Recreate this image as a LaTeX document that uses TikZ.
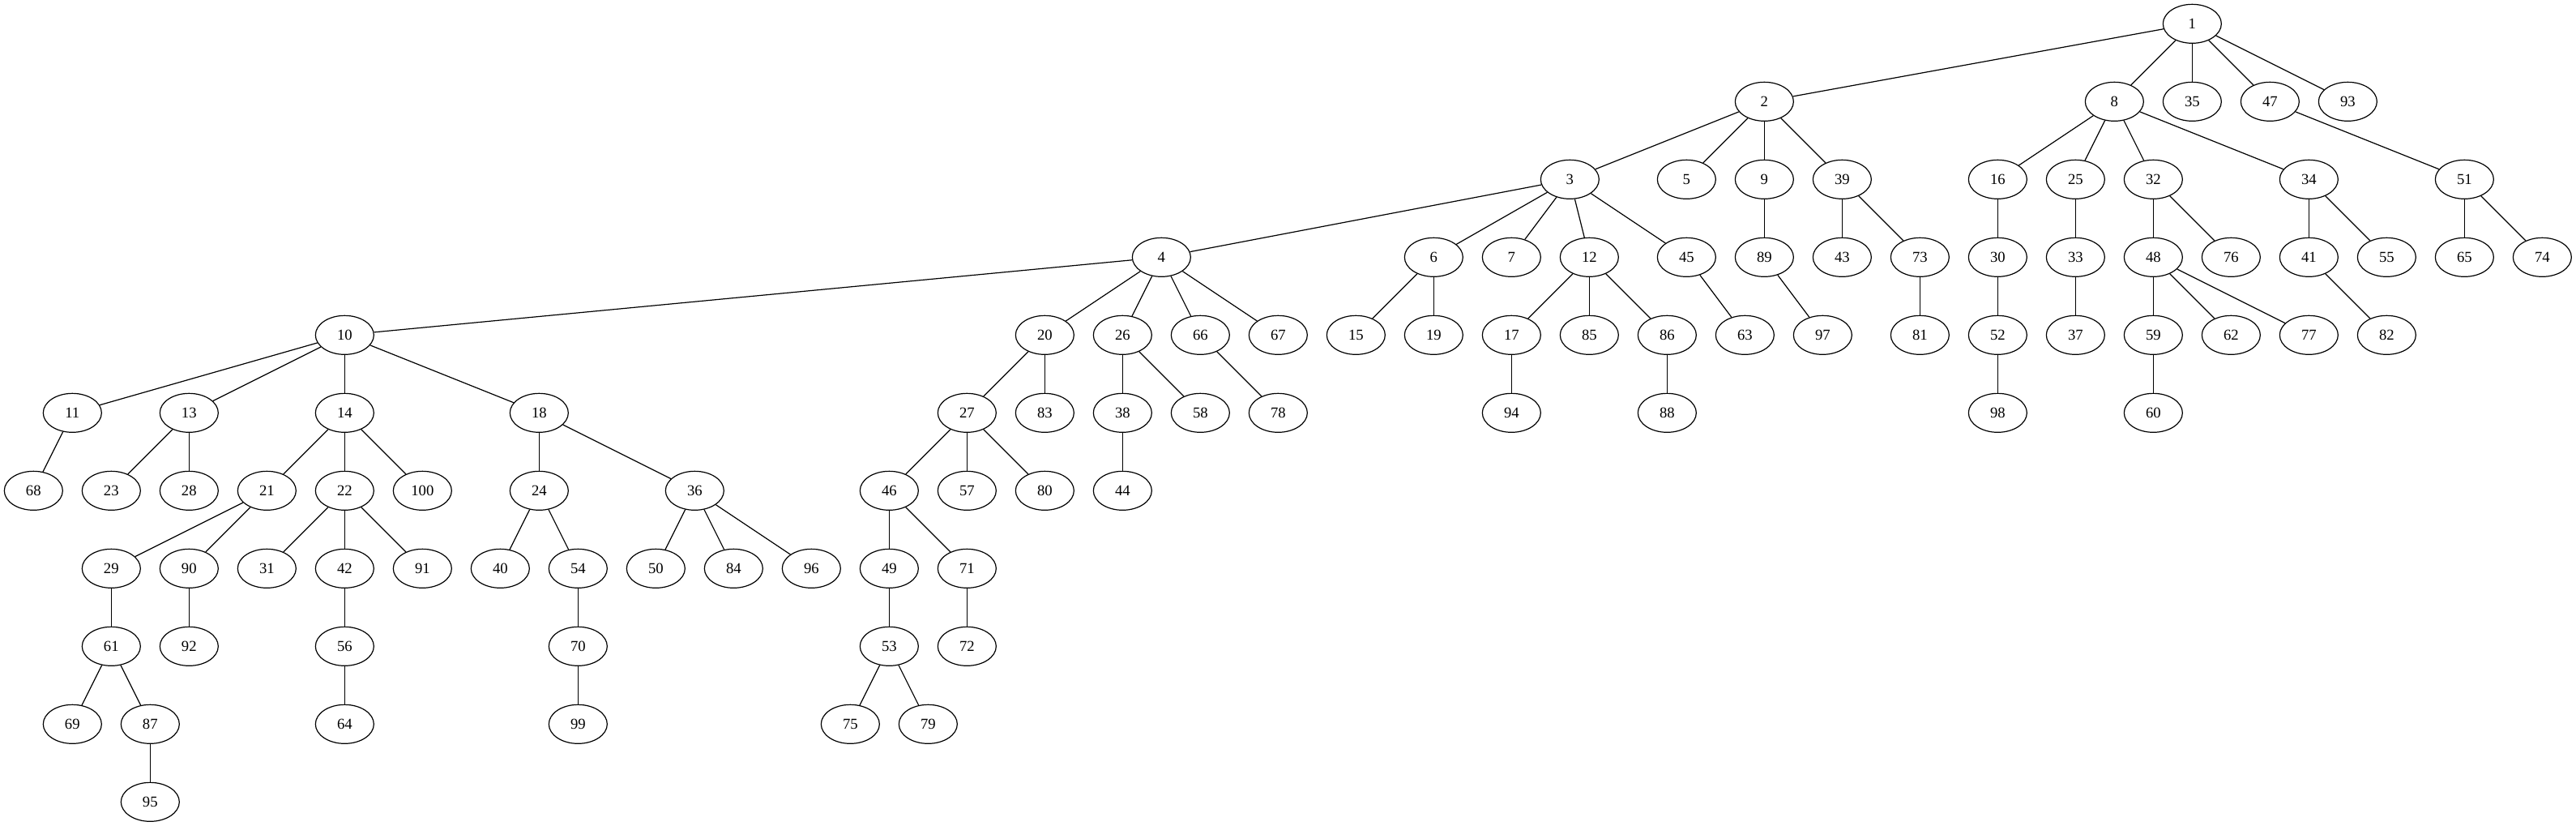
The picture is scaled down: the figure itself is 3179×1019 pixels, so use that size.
\documentclass[tikz,border=0pt]{standalone}
\usepackage{fontspec}
\setmainfont{Liberation Serif}
\usetikzlibrary{shapes.geometric}
\begin{document}
\begin{tikzpicture}[x=0.75pt,y=-0.75pt,
  tnode/.style={draw,ellipse,minimum width=54pt,minimum height=36pt,inner sep=0pt,line width=0.9pt,font=\fontsize{14}{16}\selectfont},
  tedge/.style={line width=0.9pt}]
\useasboundingbox (0,0) rectangle (3179,1019);
\def\ra{29.33}\def\rb{125.33}\def\rc{221.33}\def\rd{317.33}\def\re{413.33}\def\rf{509.33}
\def\rg{605.33}\def\rh{701.33}\def\ri{797.33}\def\rj{893.33}\def\rk{989.33}
% rank 0
\node[tnode] (v1) at (2705.33,\ra) {1};
% rank 1
\foreach \n/\x in {2/2177.33,8/2609.33,35/2705.33,47/2801.33,93/2897.33}
  \node[tnode] (v\n) at (\x,\rb) {\n};
% rank 2
\foreach \n/\x in {3/1937.33,5/2081.33,9/2177.33,39/2273.33,16/2465.33,25/2561.33,32/2657.33,34/2849.33,51/3041.33}
  \node[tnode] (v\n) at (\x,\rc) {\n};
% rank 3
\foreach \n/\x in {4/1433.33,6/1769.33,7/1865.33,12/1961.33,45/2081.33,89/2177.33,43/2273.33,73/2369.33,30/2465.33,33/2561.33,48/2657.33,76/2753.33,41/2849.33,55/2945.33,65/3041.33,74/3137.33}
  \node[tnode] (v\n) at (\x,\rd) {\n};
% rank 4
\foreach \n/\x in {10/425.33,20/1289.33,26/1385.33,66/1481.33,67/1577.33,15/1673.33,19/1769.33,17/1865.33,85/1961.33,86/2057.33,63/2153.33,97/2249.33,81/2369.33,52/2465.33,37/2561.33,59/2657.33,62/2753.33,77/2849.33,82/2945.33}
  \node[tnode] (v\n) at (\x,\re) {\n};
% rank 5
\foreach \n/\x in {11/89.33,13/233.33,14/425.33,18/665.33,27/1193.33,83/1289.33,38/1385.33,58/1481.33,78/1577.33,94/1865.33,88/2057.33,98/2465.33,60/2657.33}
  \node[tnode] (v\n) at (\x,\rf) {\n};
% rank 6
\foreach \n/\x in {68/41.33,23/137.33,28/233.33,21/329.33,22/425.33,100/521.33,24/665.33,36/857.33,46/1097.33,57/1193.33,80/1289.33,44/1385.33}
  \node[tnode] (v\n) at (\x,\rg) {\n};
% rank 7
\foreach \n/\x in {29/137.33,90/233.33,31/329.33,42/425.33,91/521.33,40/617.33,54/713.33,50/809.33,84/905.33,96/1001.33,49/1097.33,71/1193.33}
  \node[tnode] (v\n) at (\x,\rh) {\n};
% rank 8
\foreach \n/\x in {61/137.33,92/233.33,56/425.33,70/713.33,53/1097.33,72/1193.33}
  \node[tnode] (v\n) at (\x,\ri) {\n};
% rank 9
\foreach \n/\x in {69/89.33,87/185.33,64/425.33,99/713.33,75/1049.33,79/1145.33}
  \node[tnode] (v\n) at (\x,\rj) {\n};
% rank 10
\node[tnode] (v95) at (185.33,\rk) {95};
% edges
\foreach \a/\b in {1/2,1/8,1/35,1/47,1/93,
  2/3,2/5,2/9,2/39,8/16,8/25,8/32,8/34,47/51,
  3/4,3/6,3/7,3/12,3/45,9/89,39/43,39/73,16/30,25/33,32/48,32/76,34/41,34/55,51/65,51/74,
  4/10,4/20,4/26,4/66,4/67,6/15,6/19,12/17,12/85,12/86,45/63,89/97,73/81,30/52,33/37,48/59,48/62,48/77,41/82,
  10/11,10/13,10/14,10/18,20/27,20/83,26/38,26/58,66/78,17/94,86/88,52/98,59/60,
  11/68,13/23,13/28,14/21,14/22,14/100,18/24,18/36,27/46,27/57,27/80,38/44,
  21/29,21/90,22/31,22/42,22/91,24/40,24/54,36/50,36/84,36/96,46/49,46/71,
  29/61,90/92,42/56,54/70,49/53,71/72,
  61/69,61/87,56/64,70/99,53/75,53/79,
  87/95}
  \draw[tedge] (v\a) -- (v\b);
\end{tikzpicture}
\end{document}
